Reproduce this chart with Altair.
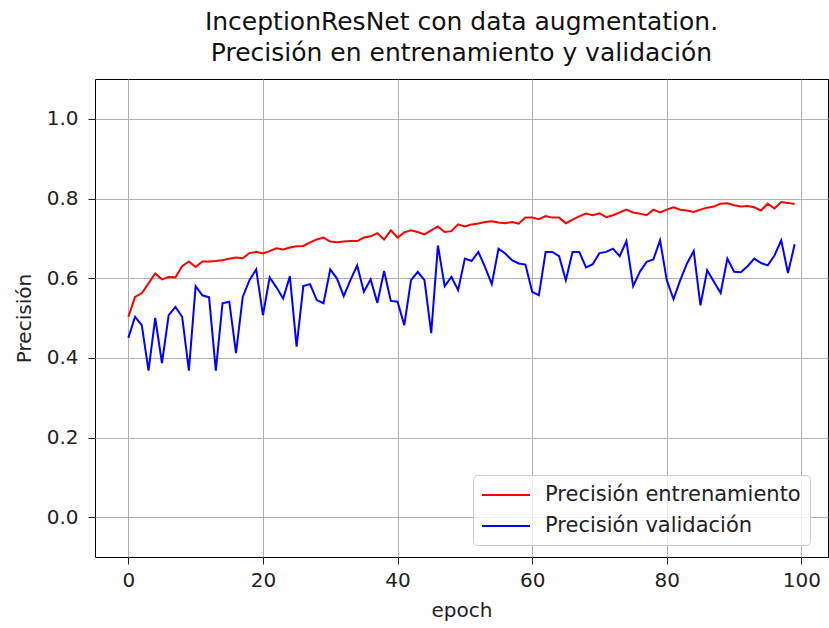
import altair as alt
import pandas as pd

# Accuracy per epoch for InceptionResNet trained with data augmentation
epochs = list(range(100))

train_acc = [
    0.503, 0.553, 0.562, 0.587, 0.612, 0.597, 0.603, 0.602, 0.630, 0.642,
    0.628, 0.642, 0.642, 0.643, 0.645, 0.649, 0.652, 0.650, 0.663, 0.666,
    0.662, 0.668, 0.675, 0.672, 0.677, 0.680, 0.681, 0.690, 0.697, 0.702,
    0.692, 0.690, 0.692, 0.693, 0.693, 0.702, 0.705, 0.713, 0.697, 0.720,
    0.702, 0.715, 0.720, 0.716, 0.710, 0.720, 0.730, 0.716, 0.718, 0.735,
    0.730, 0.735, 0.737, 0.741, 0.743, 0.740, 0.738, 0.741, 0.737, 0.752,
    0.752, 0.748, 0.756, 0.752, 0.752, 0.738, 0.747, 0.755, 0.762, 0.758,
    0.763, 0.753, 0.758, 0.765, 0.772, 0.765, 0.762, 0.758, 0.772, 0.765,
    0.772, 0.778, 0.772, 0.770, 0.766, 0.772, 0.777, 0.780, 0.787, 0.788,
    0.783, 0.780, 0.781, 0.778, 0.770, 0.787, 0.775, 0.791, 0.789, 0.786,
]

val_acc = [
    0.450, 0.503, 0.482, 0.368, 0.500, 0.387, 0.507, 0.528, 0.503, 0.368,
    0.580, 0.557, 0.552, 0.368, 0.537, 0.541, 0.412, 0.553, 0.595, 0.622,
    0.507, 0.602, 0.577, 0.549, 0.605, 0.428, 0.580, 0.585, 0.545, 0.537,
    0.622, 0.599, 0.555, 0.595, 0.632, 0.566, 0.597, 0.538, 0.618, 0.543,
    0.541, 0.482, 0.595, 0.616, 0.595, 0.462, 0.682, 0.580, 0.603, 0.570,
    0.649, 0.643, 0.666, 0.628, 0.585, 0.674, 0.662, 0.645, 0.637, 0.634,
    0.566, 0.557, 0.666, 0.666, 0.655, 0.595, 0.666, 0.666, 0.627, 0.635,
    0.663, 0.666, 0.674, 0.655, 0.693, 0.580, 0.616, 0.641, 0.647, 0.695,
    0.595, 0.547, 0.595, 0.637, 0.668, 0.532, 0.620, 0.591, 0.563, 0.649,
    0.616, 0.615, 0.630, 0.649, 0.638, 0.632, 0.657, 0.695, 0.613, 0.685,
]

series_names = ["Precisión entrenamiento", "Precisión validación"]
series_colors = ["#ff0000", "#0000ff"]

x_ticks = [0, 20, 40, 60, 80, 100]
y_ticks = [0.0, 0.2, 0.4, 0.6, 0.8, 1.0]

rows = []
for name, values in zip(series_names, [train_acc, val_acc]):
    for e, v in zip(epochs, values):
        rows.append({"epoch": e, "acc": v, "serie": name})
df = pd.DataFrame(rows)

FONT = "DejaVu Sans"

chart = (
    alt.Chart(df)
    .mark_line(strokeWidth=2)
    .encode(
        x=alt.X(
            "epoch:Q",
            title="epoch",
            scale=alt.Scale(domain=[-4.95, 103.95], nice=False, zero=False),
            axis=alt.Axis(values=x_ticks, format="d"),
        ),
        y=alt.Y(
            "acc:Q",
            title="Precisión",
            scale=alt.Scale(domain=[-0.1, 1.1], nice=False, zero=False),
            axis=alt.Axis(values=y_ticks, format=".1f"),
        ),
        color=alt.Color(
            "serie:N",
            scale=alt.Scale(domain=series_names, range=series_colors),
            legend=alt.Legend(
                title=None,
                orient="none",
                legendX=378,
                legendY=396,
                symbolType="M-1.1,0H3.7",
                symbolSize=400,
                symbolStrokeWidth=2,
                labelOffset=41,
                labelFont=FONT,
                labelFontSize=21,
                labelColor="#222222",
                labelLimit=400,
                rowPadding=10,
                padding=9,
                fillColor="rgba(255,255,255,0.8)",
                strokeColor="#cccccc",
                cornerRadius=4,
            ),
        ),
        order="epoch:Q",
    )
    .properties(
        width=733,
        height=478,
        autosize=alt.AutoSizeParams(type="none"),
        padding={"left": 95, "top": 79, "right": 1, "bottom": 71},
        title=alt.TitleParams(
            ["InceptionResNet con data augmentation.", "Precisión en entrenamiento y validación"],
            font=FONT,
            fontSize=25,
            fontWeight="normal",
            color="#111111",
            lineHeight=31,
            offset=13,
            anchor="middle",
        ),
    )
    .configure_view(stroke="black", strokeWidth=1)
    .configure_axis(
        domain=False,
        grid=True,
        gridColor="#b0b0b0",
        gridWidth=1,
        ticks=True,
        tickColor="#222222",
        tickSize=7,
        tickWidth=1,
        labelFont=FONT,
        labelFontSize=20,
        labelColor="#222222",
        titleFont=FONT,
        titleFontSize=20,
        titleFontWeight="normal",
        titleColor="#222222",
    )
    .configure_axisX(labelPadding=6, titlePadding=10)
    .configure_axisY(labelPadding=10, titlePadding=12)
)

chart.save("out.html", embed_options={"renderer": "svg", "actions": False})
